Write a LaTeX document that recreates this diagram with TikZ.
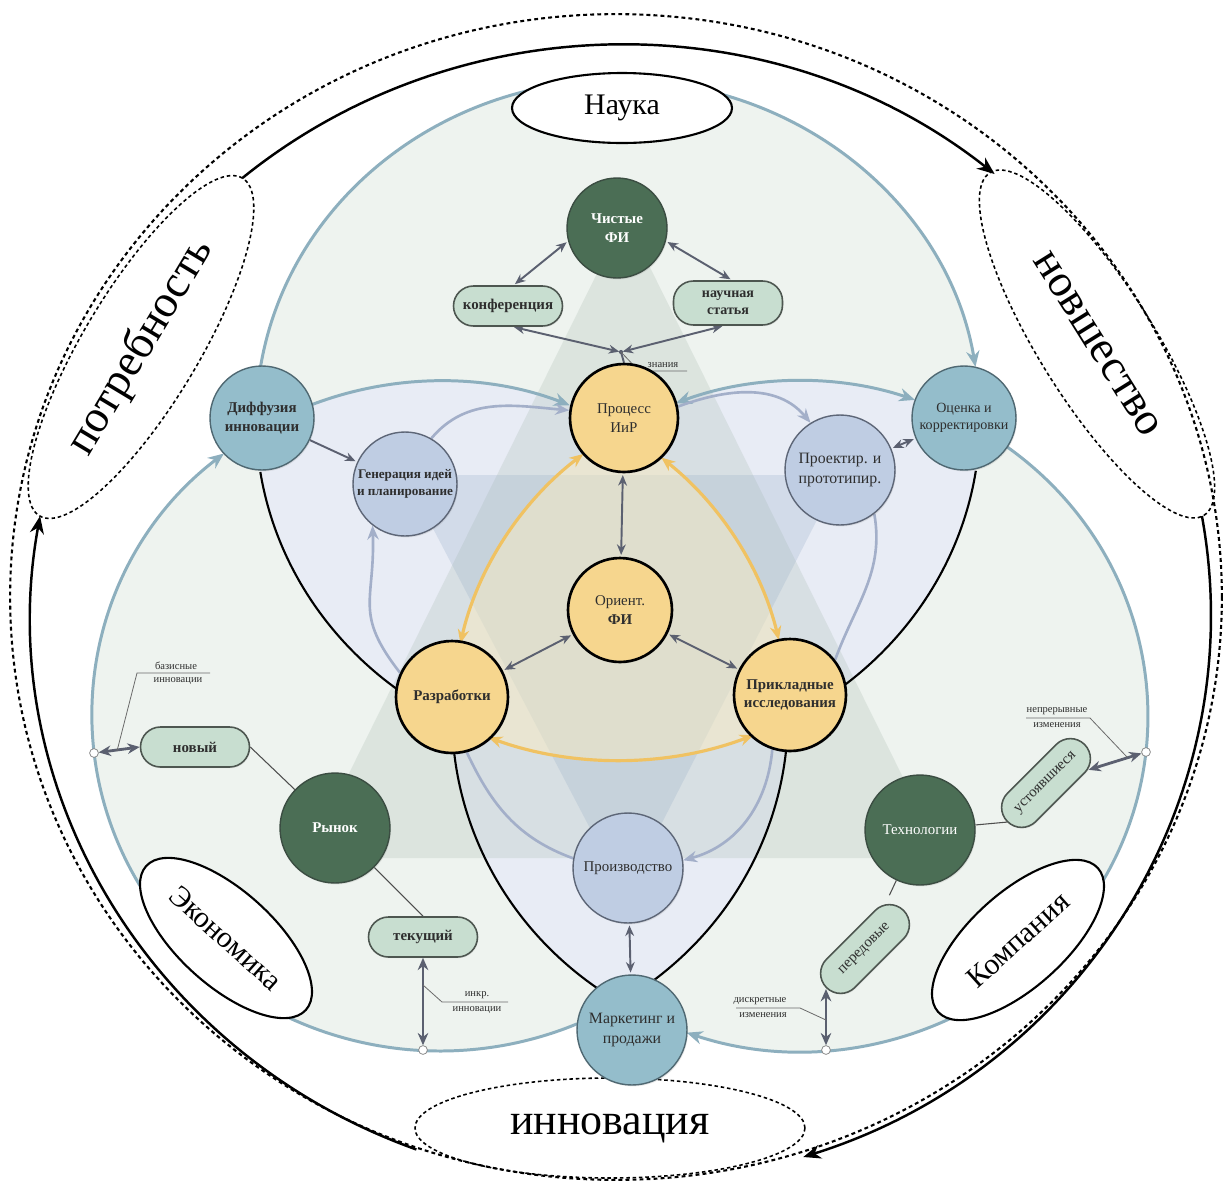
\documentclass[tikz,border=0pt]{standalone}
\usepackage{fontspec}
\setmainfont{Liberation Serif}
\usetikzlibrary{arrows.meta,shapes.geometric,calc,shadows}

\definecolor{fieldOne}{HTML}{EEF3EF}
\definecolor{fieldTwo}{HTML}{E8ECF5}
\definecolor{fieldThree}{HTML}{FFEEBE}
\definecolor{triUp}{HTML}{8EA596}
\definecolor{triDown}{HTML}{9AAFC9}
\definecolor{ringBlue}{HTML}{8DAFBE}
\definecolor{lavLine}{HTML}{A3AFC9}
\definecolor{goldLine}{HTML}{F0C262}
\definecolor{slate}{HTML}{5B6070}
\definecolor{yelFill}{HTML}{F6D68E}
\definecolor{tealFill}{HTML}{94BDCB}
\definecolor{tealEdge}{HTML}{4F6872}
\definecolor{lavFill}{HTML}{BFCDE3}
\definecolor{lavEdge}{HTML}{5D6677}
\definecolor{forest}{HTML}{4B6E55}
\definecolor{forestEdge}{HTML}{3B4D42}
\definecolor{pillFill}{HTML}{C8DED0}
\definecolor{pillEdge}{HTML}{4D5650}
\definecolor{ink}{HTML}{2E2E2E}
\definecolor{leaderGray}{HTML}{6A6A6A}

\pgfdeclarelayer{bg}
\pgfdeclarelayer{edges}
\pgfsetlayers{bg,edges,main}

\begin{document}
\begin{tikzpicture}[x=0.02cm, y=0.02cm,
  every node/.style={text=ink},
  disc/.style={circle, inner sep=0pt, align=center,
    font=\fontsize{8.5}{10.5}\selectfont,
    drop shadow={shadow xshift=0.6pt, shadow yshift=-0.8pt, opacity=0.18}},
  heavy/.style={font=\fontsize{8.5}{10.5}\selectfont\bfseries},
  yelnode/.style={disc, fill=yelFill, draw=black, line width=1.5pt},
  tealnode/.style={disc, fill=tealFill, draw=tealEdge, line width=0.8pt},
  lavnode/.style={disc, fill=lavFill, draw=lavEdge, line width=0.8pt},
  forestnode/.style={disc, fill=forest, draw=forestEdge, line width=0.8pt, text=white},
  pill/.style={rectangle, rounded corners=0.4cm, inner sep=1pt, align=center,
    fill=pillFill, draw=pillEdge, line width=0.9pt,
    minimum width=2.18cm, minimum height=0.8cm,
    font=\fontsize{8.5}{10}\selectfont,
    drop shadow={shadow xshift=0.5pt, shadow yshift=-0.7pt, opacity=0.15}},
  annot/.style={inner sep=0.5pt, font=\fontsize{6}{7}\selectfont},
  leader/.style={draw=leaderGray, line width=0.45pt},
  fieldlabel/.style={ellipse, draw=black, fill=white, line width=1.2pt, inner sep=1pt,
    font=\fontsize{17}{20}\selectfont, text=black},
  stagelabel/.style={ellipse, draw=black, line width=0.9pt, dash pattern=on 2pt off 1.6pt,
    inner sep=1pt, font=\fontsize{26}{30}\selectfont, text=black},
  dotring/.style={draw=black, line width=1.2pt, dash pattern=on 2.2pt off 1.8pt},
  bigflow/.style={draw=black, line width=1.4pt, arrows={-Stealth[length=10pt,width=8pt]}},
  bluearc/.style={draw=ringBlue, line width=1.7pt},
  btip/.style={arrows={-Stealth[length=9pt,width=7.5pt]}},
  bboth/.style={arrows={Stealth[length=9pt,width=7.5pt]-Stealth[length=9pt,width=7.5pt]}},
  track/.style={draw=black, line width=1.2pt},
  lavarc/.style={draw=lavLine, line width=1.5pt},
  ltip/.style={arrows={-Stealth[length=8pt,width=6.5pt]}},
  goldarc/.style={draw=goldLine, line width=1.8pt,
    arrows={Stealth[length=8pt,width=6.5pt]-Stealth[length=8pt,width=6.5pt]}},
  link/.style={draw=slate, line width=1.1pt, shorten <=1pt, shorten >=1pt,
    arrows={Stealth[length=6pt,width=5pt]-Stealth[length=6pt,width=5pt]}},
  onelink/.style={draw=slate, line width=1.1pt, shorten >=1pt,
    arrows={-Stealth[length=6pt,width=5pt]}},
  widelink/.style={draw=slate, line width=1.6pt,
    arrows={Stealth[length=7pt,width=6pt]-Stealth[length=7pt,width=6pt]}},
  spoke/.style={draw=ink!85, line width=0.6pt},
  endpt/.style={circle, fill=white, draw=gray, line width=0.4pt, inner sep=0pt, minimum size=5pt}
]
\useasboundingbox (0,0) rectangle (1225,-1184);

% centres of the three fields and of the outer cycle
\coordinate (cSci) at (618,-420);
\coordinate (cEco) at (440,-716);
\coordinate (cCom) at (800,-716);
\coordinate (cRing) at (621,-615);

% ---------------- labels of the fields and of the cycle stages
\node[fieldlabel, minimum width=4.4cm, minimum height=1.4cm] (sci) at (622,-108) {Наука};
\node[fieldlabel, minimum width=4.3cm, minimum height=1.9cm, rotate=-42] (eco) at (226,-938) {Экономика};
\node[fieldlabel, minimum width=4.3cm, minimum height=1.9cm, rotate=42] (com) at (1018,-940) {Компания};

\node[stagelabel, minimum width=7.88cm, minimum height=2.3cm, rotate=59] (need) at (141,-347) {потребность};
\node[stagelabel, minimum width=8.08cm, minimum height=2.3cm, rotate=-58] (novel) at (1097,-344) {новшество};
\node[stagelabel, minimum width=7.8cm, minimum height=2cm, font=\fontsize{25}{30}\selectfont] (innov) at (610,-1128) {инновация};

% ---------------- process nodes
\node[forestnode, minimum size=2cm, heavy, text=white] (pure) at (617,-228) {Чистые\\ФИ};
\node[pill, font=\fontsize{8.5}{10}\selectfont\bfseries] (conf) at (508,-306) {конференция};
\node[pill, minimum height=0.88cm, font=\fontsize{8}{9.5}\selectfont\bfseries] (paper) at (728,-303) {научная\\статья};
\coordinate (know) at (621,-352);

\node[yelnode, minimum size=2.16cm] (proc) at (624,-418) {Процесс\\ИиР};
\node[tealnode, minimum size=2.08cm, heavy] (diff) at (262,-418) {Диффузия\\инновации};
\node[tealnode, minimum size=2.08cm, font=\fontsize{8}{10}\selectfont] (eval) at (964,-418) {Оценка и\\корректировки};
\node[lavnode, minimum size=2.08cm, font=\fontsize{7.5}{9.5}\selectfont\bfseries] (gen) at (405,-484) {Генерация идей\\и планирование};
\node[lavnode, minimum size=2.2cm, font=\fontsize{9}{11.5}\selectfont] (proj) at (840,-470) {Проектир. и\\прототипир.};
\node[yelnode, minimum size=2.08cm] (orient) at (620,-610) {Ориент.\\\textbf{ФИ}};
\node[yelnode, minimum size=2.24cm, heavy] (dev) at (452,-697) {Разработки};
\node[yelnode, minimum size=2.24cm, heavy] (appl) at (790,-695) {Прикладные\\исследования};
\node[lavnode, minimum size=2.2cm] (prod) at (628,-868) {Производство};
\node[tealnode, minimum size=2.2cm, font=\fontsize{9}{11.5}\selectfont] (mkt) at (632,-1030) {Маркетинг и\\продажи};
\node[forestnode, minimum size=2.2cm, heavy, text=white] (market) at (335,-828) {Рынок};
\node[forestnode, minimum size=2.2cm] (tech) at (920,-830) {Технологии};

\node[pill, font=\fontsize{8.5}{10}\selectfont\bfseries] (new) at (195,-747) {новый};
\node[pill, font=\fontsize{8.5}{10}\selectfont\bfseries] (cur) at (423,-937) {текущий};
\node[pill, rotate=45] (est) at (1046,-783) {устоявшиеся};
\node[pill, rotate=45] (adv) at (865,-949) {передовые};

% ---------------- points on the field borders
\node[endpt] (lpt) at (94,-753) {};
\node[endpt] (bptL) at (423,-1050) {};
\node[endpt] (bptR) at (826,-1050) {};
\node[endpt] (rpt) at (1146,-752) {};
\coordinate (advFoot) at (826,-989);

% ---------------- small callouts
\node[annot, anchor=south] (tKnow) at (663,-369) {знания};
\node[annot, anchor=south] (tBasA) at (176,-671) {базисные};
\node[annot, anchor=north] (tBasB) at (178,-676) {инновации};
\node[annot, anchor=south] (tIncA) at (477,-1000) {инкр.};
\node[annot, anchor=north] (tIncB) at (477,-1005) {инновации};
\node[annot, anchor=south] (tConA) at (1057,-716) {непрерывные};
\node[annot, anchor=north] (tConB) at (1057,-721) {изменения};
\node[annot, anchor=south] (tDisA) at (760,-1006) {дискретные};
\node[annot, anchor=north] (tDisB) at (763,-1011) {изменения};

\coordinate (kBend) at (639,-371);  \coordinate (kEnd) at (687,-371);
\coordinate (bFoot) at (117,-751);  \coordinate (bBend) at (137,-673); \coordinate (bEnd) at (210,-673);
\coordinate (iFoot) at (423,-985);  \coordinate (iBend) at (442,-1002); \coordinate (iEnd) at (508,-1002);
\coordinate (nFoot) at (1127,-757); \coordinate (nBend) at (1090,-718); \coordinate (nEnd) at (1026,-718);
\coordinate (dFoot) at (826,-1020); \coordinate (dBend) at (800,-1008); \coordinate (dEnd) at (736,-1008);

% ================= background: fields and triangles
\begin{pgfonlayer}{bg}
  \fill[white] (0,0) rectangle (1225,-1184);
  \fill[fieldOne] (cSci) ellipse[x radius=7.24cm, y radius=6.8cm];
  \fill[fieldOne] (cEco) ellipse[x radius=6.96cm, y radius=6.7cm];
  \fill[fieldOne] (cCom) ellipse[x radius=6.96cm, y radius=6.7cm];
  \begin{scope}
    \clip (cSci) ellipse[x radius=7.24cm, y radius=6.8cm];
    \fill[fieldTwo] (cEco) ellipse[x radius=6.96cm, y radius=6.7cm];
    \fill[fieldTwo] (cCom) ellipse[x radius=6.96cm, y radius=6.7cm];
  \end{scope}
  \begin{scope}
    \clip (cEco) ellipse[x radius=6.96cm, y radius=6.7cm];
    \fill[fieldTwo] (cCom) ellipse[x radius=6.96cm, y radius=6.7cm];
  \end{scope}
  \fill[triUp, opacity=0.18] (625,-217) -- (307,-858) -- (943,-858) -- cycle;
  \fill[triDown, opacity=0.27] (405,-475) -- (840,-475) -- (625,-895) -- cycle;
  \begin{scope}
    \clip (cSci) ellipse[x radius=7.24cm, y radius=6.8cm];
    \clip (cEco) ellipse[x radius=6.96cm, y radius=6.7cm];
    \fill[fieldThree, opacity=0.45] (cCom) ellipse[x radius=6.96cm, y radius=6.7cm];
  \end{scope}
\end{pgfonlayer}

% ================= connectors
\begin{pgfonlayer}{edges}
  % outer cycle
  \draw[dotring] (616,-597) ellipse[x radius=12.12cm, y radius=11.66cm];
  \draw[bigflow] ($(cRing)+(129.9:11.8cm and 11.4cm)$) arc[start angle=129.9, end angle=50.7, x radius=11.8cm, y radius=11.4cm];
  \draw[bigflow] ($(cRing)+(10:11.8cm and 11.4cm)$) arc[start angle=10, end angle=-72, x radius=11.8cm, y radius=11.4cm];
  \draw[bigflow] ($(cRing)+(249.7:11.8cm and 11.4cm)$) arc[start angle=249.7, end angle=170, x radius=11.8cm, y radius=11.4cm];

  % borders of the science field
  \draw[bluearc, btip] ($(cSci)+(171:7.24cm and 6.8cm)$) arc[start angle=171, end angle=9, x radius=7.24cm, y radius=6.8cm];
  \draw[track] ($(cSci)+(188.8:7.24cm and 6.8cm)$) arc[start angle=188.8, end angle=232.3, x radius=7.24cm, y radius=6.8cm];
  \draw[track] ($(cSci)+(-8.6:7.24cm and 6.8cm)$) arc[start angle=-8.6, end angle=-51.3, x radius=7.24cm, y radius=6.8cm];
  \draw[goldarc] ($(cSci)+(249:7.24cm and 6.8cm)$) arc[start angle=249, end angle=292, x radius=7.24cm, y radius=6.8cm];

  % borders of the economy field
  \draw[bluearc, btip] ($(cEco)+(-66.8:6.96cm and 6.7cm)$) arc[start angle=-66.8, end angle=-231.6, x radius=6.96cm, y radius=6.7cm];
  \draw[track] ($(cEco)+(-6:6.96cm and 6.7cm)$) arc[start angle=-6, end angle=-52, x radius=6.96cm, y radius=6.7cm];
  \draw[bluearc, btip] ($(cEco)+(111.6:6.96cm and 6.7cm)$) arc[start angle=111.6, end angle=68.1, x radius=6.96cm, y radius=6.7cm];
  \draw[goldarc] ($(cEco)+(50.5:6.96cm and 6.7cm)$) arc[start angle=50.5, end angle=13.1, x radius=6.96cm, y radius=6.7cm];

  % borders of the company field
  \draw[bluearc, btip] ($(cCom)+(53.4:6.96cm and 6.7cm)$) arc[start angle=53.4, end angle=-109, x radius=6.96cm, y radius=6.7cm];
  \draw[track] ($(cCom)+(186.1:6.96cm and 6.7cm)$) arc[start angle=186.1, end angle=234.3, x radius=6.96cm, y radius=6.7cm];
  \draw[bluearc, bboth] ($(cCom)+(110.9:6.96cm and 6.7cm)$) arc[start angle=110.9, end angle=70.7, x radius=6.96cm, y radius=6.7cm];
  \draw[goldarc] ($(cCom)+(128.5:6.96cm and 6.7cm)$) arc[start angle=128.5, end angle=167.5, x radius=6.96cm, y radius=6.7cm];

  % inner ring of stages
  \draw[lavarc, ltip] (gen.60) to[out=50, in=175] (proc.172);
  \draw[lavarc, ltip] (dev.155) to[out=128, in=-88, looseness=1.3] (gen.232);
  \draw[lavarc, ltip] (proc.12) to[out=20, in=130] (proj.122);
  \draw[lavarc] (proj.-52) to[out=-80, in=70] (appl.38);
  \draw[lavarc] (dev.-75) to[out=-65, in=160] (prod.170);
  \draw[lavarc, ltip] (appl.-108) to[out=-95, in=15] (prod.8);

  % knowledge exchange
  \draw[link] (pure.195) -- (conf.75);
  \draw[link] (pure.345) -- (paper.80);
  \draw[link] (conf.-78) -- (know);
  \draw[link] (paper.-100) -- (know);
  \draw[slate, line width=1.1pt] (know) -- (proc.north);
  \fill[slate] (know) circle[radius=1.2pt];
  \draw[leader] (know) -- (kBend) -- (kEnd);

  % core links
  \draw[link] (proc) -- (orient);
  \draw[link] (orient) -- (dev);
  \draw[link] (orient) -- (appl);
  \draw[onelink] (diff) -- (gen);
  \draw[link] (proj) -- (eval);
  \draw[link] (prod) -- (mkt);

  % market and technology branches
  \draw[spoke] (new.east) -- (market);
  \draw[spoke] (market) -- (cur.north);
  \draw[spoke] (tech) -- (est.west);
  \draw[spoke] (tech) -- (adv.north east);
  \draw[widelink] (lpt) -- (new.west);
  \draw[widelink] (bptL) -- (cur.south);
  \draw[widelink] (rpt) -- (est);
  \draw[widelink] (bptR) -- (advFoot);

  % callout leaders
  \draw[leader] (bFoot) -- (bBend) -- (bEnd);
  \draw[leader] (iFoot) -- (iBend) -- (iEnd);
  \draw[leader] (nFoot) -- (nBend) -- (nEnd);
  \draw[leader] (dFoot) -- (dBend) -- (dEnd);
\end{pgfonlayer}
\end{tikzpicture}
\end{document}
